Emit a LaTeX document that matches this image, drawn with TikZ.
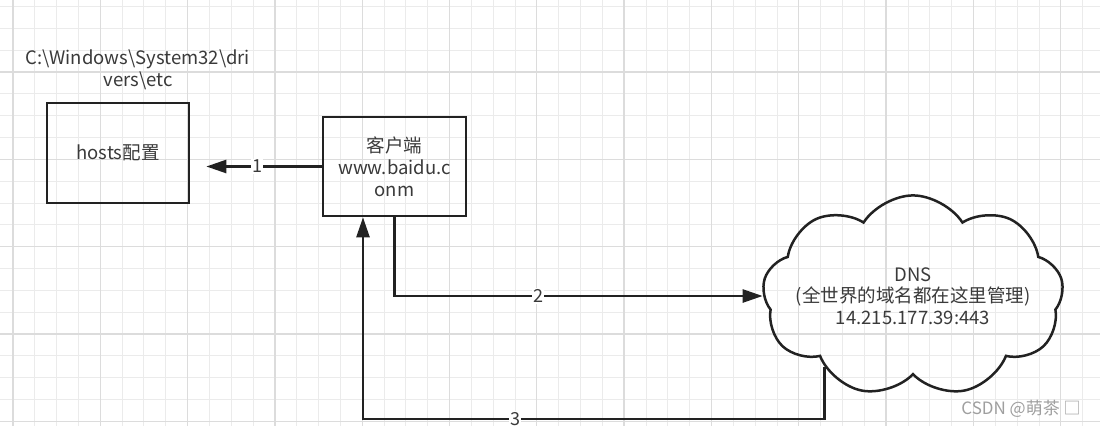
\documentclass[tikz,border=0pt]{standalone}
\usepackage{fontspec}
\setmainfont{Noto Sans CJK SC}
\usetikzlibrary{shapes.symbols,arrows.meta,calc}

\definecolor{ink}{HTML}{222222}
\definecolor{txt}{HTML}{3A3A3A}
\definecolor{gridminor}{HTML}{EBEBEB}
\definecolor{gridmajor}{HTML}{DCDCDC}

\begin{document}
\begin{tikzpicture}[
  x=1pt, y=-1pt,
  box/.style={rectangle, draw=ink, line width=2.6pt, align=center, text=txt,
    font=\fontsize{18.5}{22}\selectfont, inner sep=0pt},
  arrow/.style={-{Triangle[length=20pt, width=13pt]}, draw=ink, line width=2.5pt},
  num/.style={fill=white, text=txt, font=\fontsize{18}{18}\selectfont, inner sep=1pt},
]
\useasboundingbox (0,0) rectangle (1100,426);
\fill[white] (0,0) rectangle (1100,426);

% === background grid ===
\foreach \i in {0,...,50} {
  \draw[gridminor, line width=1pt] ({13+21.83*\i},0) -- ({13+21.83*\i},426);
}
\foreach \j in {0,...,19} {
  \draw[gridminor, line width=1pt] (0,{6.6+21.83*\j}) -- (1100,{6.6+21.83*\j});
}
\foreach \i in {0,...,12} {
  \draw[gridmajor, line width=1.3pt] ({13+87.3*\i},0) -- ({13+87.3*\i},426);
}
\foreach \j in {0,...,4} {
  \draw[gridmajor, line width=1.3pt] (0,{72+87.3*\j}) -- (1100,{72+87.3*\j});
}

% === hosts ===
\node[box, minimum width=142pt, minimum height=100pt] (hosts) at (118, 153) {hosts配置};
\node[text=txt, align=center, font=\fontsize{18.5}{22}\selectfont] (path) at (138, 70)
  {C:\textbackslash Windows\textbackslash System32\textbackslash dri\\vers\textbackslash etc};

% === client ===
\node[box, minimum width=143pt, minimum height=99pt] (client) at (394.5, 166.5)
  {客户端\\www.baidu.c\\onm};

% === DNS ===
\node[cloud, cloud puffs=9, cloud puff arc=115, aspect=1.85, draw=ink, line width=2.5pt,
  inner xsep=-15pt, inner ysep=0pt, align=center, text=txt,
  font=\fontsize{18.5}{21.5}\selectfont] (dns) at (913, 296)
  {DNS\\(全世界的域名都在这里管理)\\14.215.177.39:443};

\coordinate (b3) at (363, 419);

\draw[arrow, shorten >=16pt] (client.west) -- node[num, pos=0.49] {1} (client.west -| hosts.east);
\draw[arrow] (client.south) -- (client.south |- dns.west) -- node[num, pos=0.39] {2} (dns.west);
\draw[arrow] (dns.219) -- (dns.219 |- b3) -- node[num, pos=0.67] {3} (b3) -- (b3 |- client.south);

\node[text=gray!75, font=\fontsize{17}{17}\selectfont] (mark) at (1021, 409) {CSDN @萌茶 □};

\end{tikzpicture}
\end{document}
